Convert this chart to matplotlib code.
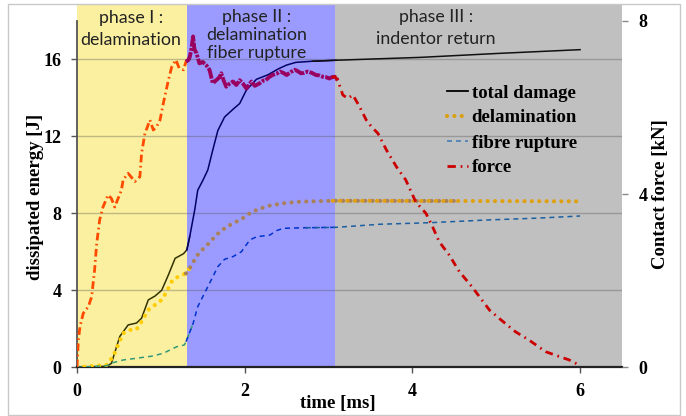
import matplotlib
matplotlib.use("Agg")
import matplotlib.pyplot as plt
from matplotlib.lines import Line2D
from matplotlib.patches import Rectangle
import numpy as np

plt.rcParams["lines.scale_dashes"] = False

# phase boundaries [ms]
phase_edges = [0.0, 1.313, 3.075, 6.5]
phase_colors = ["#fbf0a0", "#9b9bff", "#c0c0c0"]
phase_texts = [
    ["phase I :", "delamination"],
    ["phase II :", "delamination", "fiber rupture"],
    ["phase III :", "indentor return"],
]

# total damage [J]
t_total = [0, 0.35, 0.41, 0.51, 0.61, 0.71, 0.77, 0.85, 0.93, 1.01, 1.09, 1.17, 1.27, 1.31,
           1.345, 1.405, 1.44, 1.50, 1.56, 1.62, 1.68, 1.76, 1.86, 1.94, 2.02, 2.14, 2.28,
           2.40, 2.50, 2.61, 2.81, 3.09, 4.1, 5.0, 6.0]
e_total = [0, 0.05, 0.2, 1.6, 2.2, 2.3, 2.55, 3.5, 3.7, 4.0, 4.8, 5.66, 5.9, 6.1,
           6.8, 8.2, 9.2, 9.7, 10.25, 11.3, 12.3, 13.0, 13.4, 13.7, 14.4, 14.96, 15.2,
           15.5, 15.7, 15.84, 15.9, 15.95, 16.1, 16.3, 16.5]

# delamination [J]
t_delam = [0, 0.35, 0.43, 0.49, 0.55, 0.63, 0.71, 0.77, 0.85, 0.93, 1.01, 1.07, 1.14, 1.22,
           1.30, 1.37, 1.42, 1.50, 1.58, 1.66, 1.76, 1.86, 1.96, 2.06, 2.16, 2.30, 2.46,
           2.65, 3.05, 4.5, 6.0]
e_delam = [0, 0.12, 0.55, 1.16, 1.77, 1.94, 1.97, 2.37, 2.98, 3.24, 3.5, 3.93, 4.54, 4.74,
           4.88, 5.31, 5.75, 6.13, 6.47, 6.87, 7.22, 7.48, 7.69, 8.0, 8.21, 8.4, 8.52,
           8.6, 8.65, 8.64, 8.62]

# fibre rupture [J]
t_fibre = [0, 0.35, 0.43, 0.55, 0.71, 0.91, 1.03, 1.19, 1.28, 1.30, 1.385, 1.44, 1.52, 1.60,
           1.68, 1.76, 1.86, 1.96, 2.06, 2.14, 2.30, 2.38, 2.46, 2.73, 3.09, 3.61, 4.2,
           4.88, 5.5, 6.0]
e_fibre = [0, 0.08, 0.24, 0.38, 0.47, 0.59, 0.73, 1.07, 1.16, 1.33, 2.28, 3.15, 3.84, 4.53,
           5.23, 5.61, 5.75, 6.0, 6.61, 6.78, 6.87, 7.1, 7.22, 7.25, 7.27, 7.43, 7.51,
           7.65, 7.75, 7.86]

# contact force [kN]
t_force = [0, 0.016, 0.036, 0.075, 0.135, 0.175, 0.21, 0.235, 0.27, 0.31, 0.37, 0.41, 0.45,
           0.49, 0.53, 0.55, 0.61, 0.69, 0.75, 0.77, 0.81, 0.87, 0.91, 0.95, 0.99, 1.03,
           1.09, 1.13, 1.18, 1.22, 1.27, 1.30,
           1.33, 1.345, 1.36, 1.385, 1.40, 1.425, 1.46, 1.50, 1.54, 1.58, 1.62, 1.66, 1.70,
           1.72, 1.75, 1.78, 1.82, 1.86, 1.90, 1.94, 1.98, 2.02, 2.05, 2.08, 2.12, 2.18,
           2.22, 2.25, 2.29, 2.33, 2.38, 2.42, 2.46, 2.50, 2.55, 2.60, 2.64, 2.67, 2.71,
           2.75, 2.80, 2.85, 2.89, 2.93, 2.97, 3.01, 3.04, 3.075,
           3.11, 3.17, 3.23, 3.29, 3.37, 3.45, 3.51, 3.59, 3.69, 3.81, 3.92, 4.04, 4.16,
           4.24, 4.32, 4.44, 4.56, 4.71, 4.80, 4.92, 5.06, 5.23, 5.39, 5.59, 5.75, 5.87, 5.99]
f_force = [0, 0.63, 0.94, 1.25, 1.40, 1.63, 2.25, 2.86, 3.40, 3.70, 3.98, 3.90, 3.70,
           3.90, 4.09, 4.33, 4.48, 4.29, 4.40, 4.94, 5.40, 5.71, 5.48, 5.56, 5.71, 6.10,
           6.63, 6.94, 7.10, 6.90, 6.87, 7.06,
           7.10, 7.17, 7.30, 7.64, 7.35, 7.25, 7.02, 7.05, 6.98, 6.87, 6.56, 6.63, 6.70,
           6.79, 6.62, 6.48, 6.55, 6.60, 6.52, 6.63, 6.55, 6.44, 6.52, 6.60, 6.50, 6.56,
           6.62, 6.63, 6.70, 6.75, 6.78, 6.83, 6.80, 6.75, 6.82, 6.87, 6.83, 6.79, 6.80,
           6.83, 6.80, 6.75, 6.74, 6.71, 6.70, 6.67, 6.70, 6.71,
           6.63, 6.29, 6.21, 6.29, 6.02, 5.71, 5.56, 5.40, 5.02, 4.63, 4.33, 3.82, 3.56,
           3.25, 2.90, 2.59, 2.21, 1.86, 1.63, 1.32, 1.09, 0.82, 0.63, 0.36, 0.25, 0.17, 0.05]

serif = ["Liberation Serif", "DejaVu Serif"]


def split_phases(t, y):
    """Cut a series into the three phases, sharing the point at each cut."""
    t = np.asarray(t)
    y = np.asarray(y)
    parts = []
    for a, b in zip(phase_edges[:-1], phase_edges[1:]):
        idx = np.where((t >= a) & (t <= b))[0]
        lo = max(idx[0] - 1, 0)
        hi = min(idx[-1] + 2, len(t))
        parts.append((t[lo:hi], y[lo:hi]))
    return parts


fig = plt.figure(figsize=(6.86, 4.16), dpi=100)
ax = fig.add_axes([77 / 686, 1 - 367.3 / 416, 545 / 686, 362.3 / 416])
ax2 = ax.twinx()

for (a, b), c in zip(zip(phase_edges[:-1], phase_edges[1:]), phase_colors):
    ax.axvspan(a, b, color=c, zorder=0, lw=0)

for v in [4, 8, 12, 16]:
    ax.axhline(v, color="#505050", alpha=0.35, lw=1, zorder=1)

# per phase colours (the bands tint the curves in the original)
total_cols = ["#333300", "#000066", "#111111"]
delam_cols = ["#ffcc00", "#a9805a", "#e0a010"]
fibre_cols = ["#339977", "#0033cc", "#1a5fa0"]
force_cols = ["#ff4a00", "#99005f", "#cc0000"]

dot_style = (0, (0.01, 5.3))
for (tt, yy), c in zip(split_phases(t_total, e_total), total_cols):
    ax.plot(tt, yy, color=c, lw=1.1, zorder=3)
for (tt, yy), c in zip(split_phases(t_delam, e_delam), delam_cols):
    ax.plot(tt, yy, color=c, lw=3.0, linestyle=dot_style,
            dash_capstyle="round", zorder=3)
for (tt, yy), c in zip(split_phases(t_fibre, e_fibre), fibre_cols):
    ax.plot(tt, yy, color=c, lw=1.1, linestyle=(0, (3.6, 2.9)), zorder=3)
force_parts = split_phases(t_force, f_force)
force_styles = [(0, (5.5, 2.5, 1.2, 2.5)), (0, (8, 1, 2, 1)), (0, (5.5, 3.5, 1.2, 3.5))]
force_lw = [2.0, 2.8, 2.0]
for (tt, yy), c, ls, lw in zip(force_parts, force_cols, force_styles, force_lw):
    ax2.plot(tt, yy, color=c, lw=lw, linestyle=ls, zorder=3)

ax.set_xlim(0, 6.5)
ax.set_ylim(0, 18.82)
ax2.set_ylim(0, 8.367)
ax.set_xticks([0, 2, 4, 6])
ax.set_yticks([0, 4, 8, 12, 16])
ax2.set_yticks([0, 4, 8])

for a in (ax, ax2):
    a.spines["top"].set_visible(False)
    a.spines["right"].set_visible(False)
    a.patch.set_visible(False)
ax2.spines["left"].set_visible(False)
ax2.spines["bottom"].set_visible(False)
ax.spines["left"].set_bounds(0, 18)
ax.spines["left"].set_color("#555555")
ax.spines["left"].set_linewidth(1.3)
ax.spines["bottom"].set_color("#222222")
ax.spines["bottom"].set_linewidth(1.6)

tick_font = dict(family=serif, weight="bold", size=13)
ax.tick_params(axis="both", direction="out", length=4, width=1, color="#555555", pad=7)
ax2.tick_params(axis="y", direction="out", length=4, width=1, color="#888888", pad=8)
for lab in ax.get_xticklabels() + ax.get_yticklabels() + ax2.get_yticklabels():
    lab.set_fontproperties(matplotlib.font_manager.FontProperties(**tick_font))

ax.set_xlabel("time [ms]", fontfamily=serif, fontweight="bold", fontsize=13.5, va="center")
ax.xaxis.set_label_coords(0.479, -0.099)
ax.set_ylabel("dissipated energy [J]", fontfamily=serif, fontweight="bold", fontsize=13.5,
              va="center")
ax.yaxis.set_label_coords(-0.077, 0.47)
ax2.set_ylabel("Contact force [kN]", fontfamily=serif, fontweight="bold", fontsize=13.5,
               va="center", rotation=90)
ax2.yaxis.set_label_coords(1.07, 0.478)

# phase captions (pixel positions of each line)
caption_pos = [(131, [18, 40]), (257, [17, 35, 53]), (436, [17, 39])]
for (px, ys), lines in zip(caption_pos, phase_texts):
    for py, s in zip(ys, lines):
        fig.text(px / 686, 1 - py / 416, s, ha="center", va="center",
                 fontfamily="Lato", fontsize=12.8, color="#222222")

handles = [
    Line2D([], [], color="#000000", lw=1.3),
    Line2D([], [], color="#d9a012", lw=3.0, linestyle=dot_style, dash_capstyle="round"),
    Line2D([], [], color="#3a78b8", lw=1.1, linestyle=(0, (3.6, 2.9))),
    Line2D([], [], color="#cc0000", lw=2.0, linestyle=(0, (6, 3.5, 1.2, 3.5))),
]
labels = ["total damage", "delamination", "fibre rupture", "force"]
ax.legend(handles, labels, loc="upper left", bbox_to_anchor=(438 / 686, 1 - 75 / 416),
          bbox_transform=fig.transFigure, frameon=False, borderpad=0,
          handlelength=1.1, handletextpad=0.2, labelspacing=0.42,
          prop=dict(family=serif, weight="bold", size=13.5))

fig.patches.append(Rectangle((8 / 686, 1 / 416), 672 / 686, 411 / 416, transform=fig.transFigure,
                             fill=False, edgecolor="#c8c8c8", lw=1))

fig.savefig("out.png", dpi=100)
